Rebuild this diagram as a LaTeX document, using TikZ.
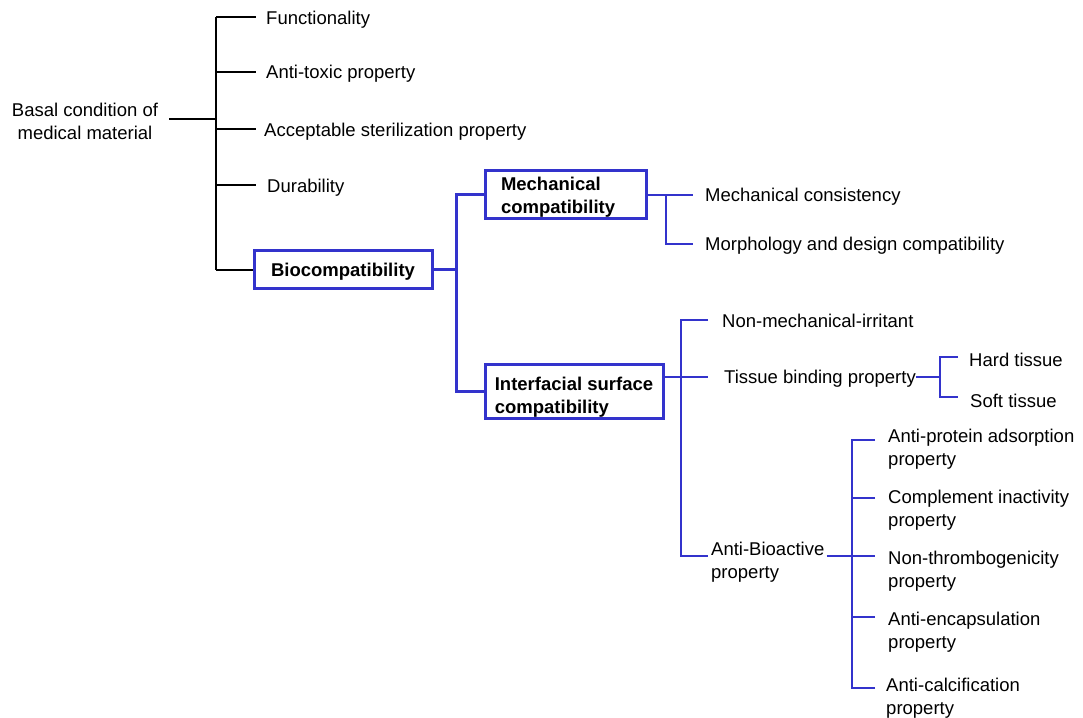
\documentclass[tikz,border=0pt]{standalone}
\usepackage{fontspec}
\setmainfont{Liberation Sans}
\definecolor{tblue}{RGB}{51,51,204}
\begin{document}
\begin{tikzpicture}[x=1pt,y=-1pt,
  txt/.style={inner sep=0pt,anchor=west,align=left,yshift=-2pt,font=\fontsize{18.5}{23}\selectfont},
  bbox/.style={draw=tblue,line width=3pt,inner sep=0pt},
  btxt/.style={inner sep=0pt,align=left,font=\fontsize{18.5}{23}\selectfont\bfseries},
  blk/.style={black,line width=1.4pt},
  bthick/.style={tblue,line width=3pt},
  bthin/.style={tblue,line width=1.4pt}]
\useasboundingbox (0,0) rectangle (1083,717);

% root
\node[inner sep=0pt,align=center,font=\fontsize{18.5}{23}\selectfont] (basal) at (85,121) {Basal condition of\\medical material};
\node[txt] (f1) at (266,18) {Functionality};
\node[txt] (f2) at (266,72) {Anti-toxic property};
\node[txt] (f3) at (264,130) {Acceptable sterilization property};
\node[txt] (f4) at (267,186) {Durability};
\node[bbox,minimum width=178pt,minimum height=38pt] (bio) at (343,269) {};
\node[btxt] (biot) at (343,272) {Biocompatibility};

\coordinate (j0) at (216,119);
\coordinate (jt) at (216,17);
\coordinate (jb) at (216,270);
\draw[blk] ([xshift=11pt]basal.east |- j0) -- (j0);
\draw[blk] (jt) -- (jb);
\draw[blk] (jt) -- (256,17);
\draw[blk] (216,72) -- (256,72);
\draw[blk] (216,129) -- (256,129);
\draw[blk] (216,185) -- (256,185);
\draw[blk] (jb) -- (bio.west |- jb);

% level 2
\node[bbox,minimum width=161pt,minimum height=48pt] (mech) at (565.5,194) {};
\node[btxt,text width=129pt] (mecht) at (565.5,197) {Mechanical\\compatibility};
\node[bbox,minimum width=178pt,minimum height=54pt] (intf) at (574,391) {};
\node[btxt] (intft) at (574,397) {Interfacial surface\\compatibility};
\coordinate (b1) at (456,269);
\draw[bthick] (bio.east) -- (b1);
\draw[bthick] (mech.west) -| (b1) |- (intf.west);

% mechanical children
\node[txt] (mc) at (705,195) {Mechanical consistency};
\node[txt] (md) at (705,244) {Morphology and design compatibility};
\coordinate (m1) at (666,195);
\draw[bthin] (mech.east |- m1) -- (693,195);
\draw[bthin] (m1) |- (693,244);

% interfacial children
\node[txt] (nm) at (722,319) {Non-mechanical-irritant};
\node[txt] (tb) at (724,377) {Tissue binding property};
\node[txt] (ab) at (711,560) {Anti-Bioactive\\property};
\coordinate (i1) at (681,377);
\coordinate (ka) at (708,556);
\coordinate (kn) at (708,320);
\draw[bthin] (intf.east |- i1) -- (i1) -- (708,377);
\draw[bthin] (kn) -| (i1) |- (ka);

% tissue binding children
\node[txt] (ht) at (969,358) {Hard tissue};
\node[txt] (st) at (970,399) {Soft tissue};
\coordinate (t2) at (940,377);
\coordinate (h1) at (958,357);
\coordinate (h2) at (958,397);
\draw[bthin] (tb.east |- t2) -- (t2);
\draw[bthin] (h1) -| (t2) |- (h2);

% anti-bioactive children
\node[txt] (a1) at (888,447) {Anti-protein adsorption\\property};
\node[txt] (a2) at (888,508) {Complement inactivity\\property};
\node[txt] (a3) at (888,569) {Non-thrombogenicity\\property};
\node[txt] (a4) at (888,630) {Anti-encapsulation\\property};
\node[txt] (a5) at (886,696) {Anti-calcification\\property};
\coordinate (s) at (852,556);
\coordinate (k1) at (875,440);
\coordinate (k2) at (875,498);
\coordinate (k3) at (875,556);
\coordinate (k4) at (875,617);
\coordinate (k5) at (875,688);
\draw[bthin] ([xshift=2pt]ab.east |- k3) -- (k3);
\draw[bthin] (k1) -| (s);
\draw[bthin] (k5) -| (s);
\draw[bthin] (k2) -- (k2 -| s);
\draw[bthin] (k4) -- (k4 -| s);
\end{tikzpicture}
\end{document}
